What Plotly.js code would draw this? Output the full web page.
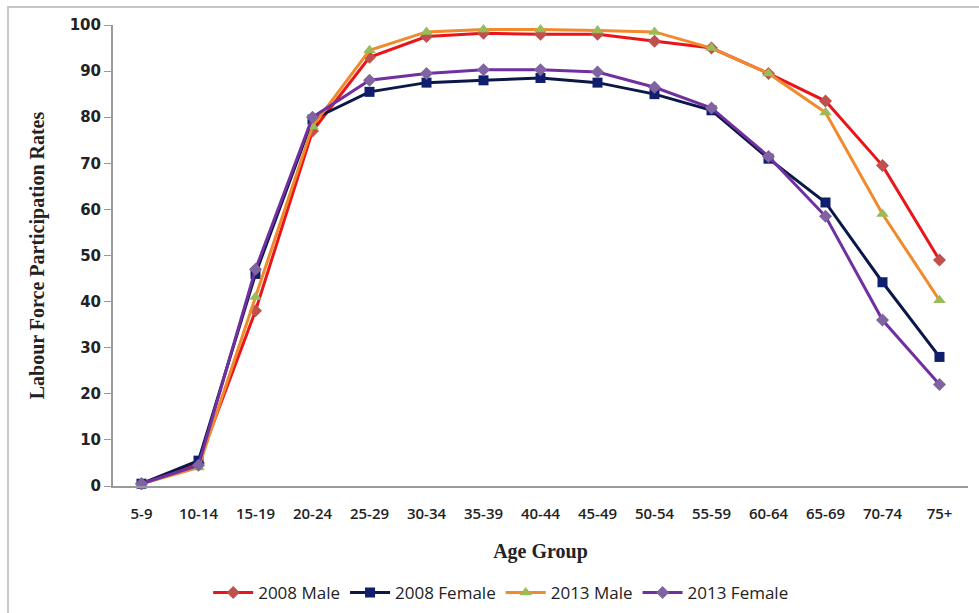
<!DOCTYPE html>
<html><head><meta charset="utf-8">
<script src="https://cdn.plot.ly/plotly-3.0.1.min.js"></script>
<style>html,body{margin:0;padding:0;background:#fff;}#chart{width:979px;height:613px;}</style>
</head><body><div id="chart"></div>
<script>
const ageGroups = ["5-9","10-14","15-19","20-24","25-29","30-34","35-39","40-44","45-49","50-54","55-59","60-64","65-69","70-74","75+"];
const male2008   = [0.5, 5.0, 38.0, 77.0, 93.0, 97.5, 98.2, 98.0, 98.0, 96.5, 95.0, 89.5, 83.5, 69.5, 49.0];
const female2008 = [0.5, 5.5, 46.0, 79.5, 85.5, 87.5, 88.0, 88.5, 87.5, 85.0, 81.5, 71.0, 61.5, 44.2, 28.0];
const male2013   = [0.5, 4.0, 41.0, 78.0, 94.5, 98.5, 99.0, 99.0, 98.8, 98.5, 95.0, 89.5, 81.0, 59.0, 40.3];
const female2013 = [0.5, 4.5, 47.0, 80.0, 88.0, 89.5, 90.3, 90.3, 89.8, 86.5, 82.0, 71.5, 58.5, 36.0, 22.0];
const seriesNames = ["2008 Male","2008 Female","2013 Male","2013 Female"];
const yTicks = [0,10,20,30,40,50,60,70,80,90,100];

const mk = (y, name, lc, mc, sym, ms, lw) => ({
  x: ageGroups, y: y, name: name, type: 'scatter', mode: 'lines+markers',
  line: {color: lc, width: lw},
  marker: {color: mc, symbol: sym, size: ms, line: {width: 0}},
  cliponaxis: false
});
const data = [
  mk(male2008, seriesNames[0], '#E8161B', '#C0504D', 'diamond', 10, 3),
  mk(female2008, seriesNames[1], '#0B1847', '#0F1F6E', 'square', 10, 3),
  mk(male2013, seriesNames[2], '#F08A2C', '#9BBB59', 'triangle-up', 11, 3),
  mk(female2013, seriesNames[3], '#7030A0', '#8064A2', 'diamond', 10, 3)
];
const layout = {
  width: 979, height: 613,
  margin: {l: 113, r: 11, t: 25, b: 127, autoexpand: false},
  paper_bgcolor: '#fff', plot_bgcolor: '#fff',
  showlegend: true,
  legend: {orientation: 'h', x: 0.454, xanchor: 'center', y: -0.232, yanchor: 'middle',
    font: {family: 'Open Sans, sans-serif', size: 17, color: '#222'},
    itemwidth: 40, tracegroupgap: 0},
  xaxis: {type: 'category', range: [-0.5, 14.5], showgrid: false, zeroline: false, automargin: false,
    showline: true, linecolor: '#9a9a9a', linewidth: 2, ticks: '', ticklabelstandoff: 13,
    tickfont: {family: 'Open Sans, sans-serif', size: 15, color: '#222', weight: 600},
    title: {text: '<b>Age Group</b>', font: {family: 'Liberation Serif, serif', size: 20, color: '#222'}, standoff: 22}},
  yaxis: {range: [0, 100], tickvals: yTicks, showgrid: false, zeroline: false, automargin: false,
    showline: true, linecolor: '#9a9a9a', linewidth: 2, ticks: 'outside', ticklen: 7, tickcolor: '#9a9a9a',
    tickfont: {family: 'DejaVu Sans, sans-serif', size: 15, color: '#222', weight: 'bold'},
    title: {text: '<b>Labour Force Participation Rates</b>', font: {family: 'Liberation Serif, serif', size: 20, color: '#222'}, standoff: 20}},
  shapes: [
    {type: 'rect', xref: 'paper', yref: 'paper', x0: -0.1228, x1: 1.05, y0: -0.3, y1: 1.039,
     line: {color: '#c8c8c8', width: 2}, fillcolor: 'rgba(0,0,0,0)', layer: 'below'}
  ]
};
Plotly.newPlot('chart', data, layout, {displayModeBar: false, staticPlot: true});
</script></body></html>
